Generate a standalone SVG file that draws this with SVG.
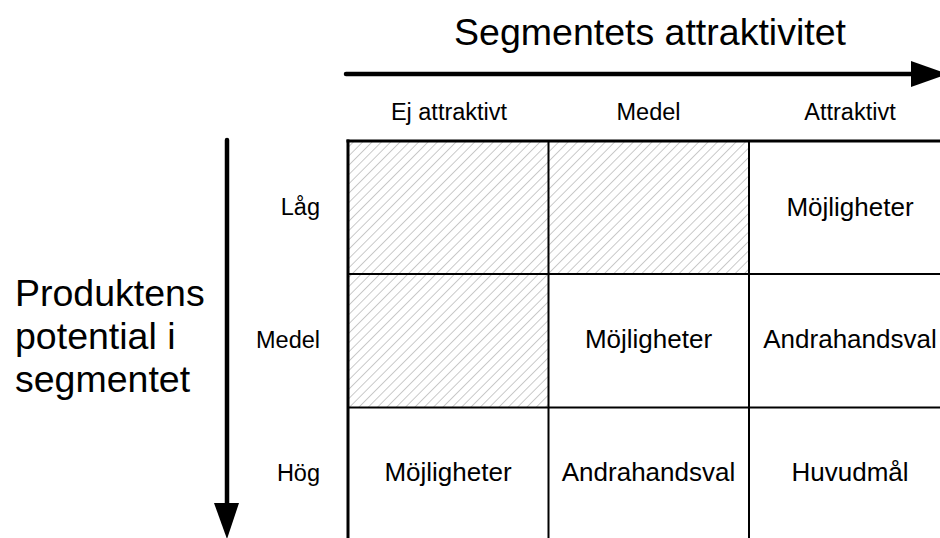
<svg xmlns="http://www.w3.org/2000/svg" width="940" height="538" viewBox="0 0 940 538">
  <defs>
    <pattern id="hatch" patternUnits="userSpaceOnUse" width="6.6" height="6.6" patternTransform="rotate(45)">
      <line x1="0" y1="0" x2="0" y2="6.6" stroke="#c4c4c4" stroke-width="1.8"/>
    </pattern>
    <style>
      text { font-family: "Liberation Sans", Arial, sans-serif; fill: #000; }
      .title { font-size: 37.5px; }
      .hdr { font-size: 23.5px; text-anchor: middle; }
      .row { font-size: 23.5px; text-anchor: end; }
      .cell { font-size: 26px; text-anchor: middle; }
      .grid { stroke: #000; stroke-width: 2; fill: none; }
      .outer { stroke: #000; stroke-width: 3; fill: none; }
      .arrow { stroke: #000; stroke-width: 4.5; fill: none; stroke-linecap: round; }
    </style>
  </defs>
  <rect width="940" height="538" fill="#fff"/>

  <g id="title-x"><text class="title" x="650" y="45" text-anchor="middle">Segmentets attraktivitet</text></g>
  <g id="title-y">
    <text class="title" x="15" y="306">Produktens</text>
    <text class="title" x="15" y="349">potential i</text>
    <text class="title" x="15" y="392">segmentet</text>
  </g>

  <g id="connectors">
    <line class="arrow" x1="346" y1="74" x2="914" y2="74"/>
    <polygon points="911,61 948,74 911,87" fill="#000"/>
    <line class="arrow" x1="227" y1="140" x2="227" y2="505"/>
    <polygon points="214,503 239,503 227,539" fill="#000"/>
  </g>

  <g id="col-headers">
    <text class="hdr" x="449" y="120">Ej attraktivt</text>
    <text class="hdr" x="648.5" y="120">Medel</text>
    <text class="hdr" x="850" y="120">Attraktivt</text>
  </g>
  <g id="row-headers">
    <text class="row" x="320" y="215">Låg</text>
    <text class="row" x="320" y="348">Medel</text>
    <text class="row" x="320" y="481">Hög</text>
  </g>

  <g id="cell-r1c1"><rect x="348" y="141" width="200.5" height="133" fill="url(#hatch)"/></g>
  <g id="cell-r1c2"><rect x="548.5" y="141" width="200.5" height="133" fill="url(#hatch)"/></g>
  <g id="cell-r1c3"><text class="cell" x="850" y="216">Möjligheter</text></g>
  <g id="cell-r2c1"><rect x="348" y="274" width="200.5" height="133.5" fill="url(#hatch)"/></g>
  <g id="cell-r2c2"><text class="cell" x="648.5" y="348">Möjligheter</text></g>
  <g id="cell-r2c3"><text class="cell" x="850" y="348">Andrahandsval</text></g>
  <g id="cell-r3c1"><text class="cell" x="448" y="481">Möjligheter</text></g>
  <g id="cell-r3c2"><text class="cell" x="648.5" y="481">Andrahandsval</text></g>
  <g id="cell-r3c3"><text class="cell" x="850" y="481">Huvudmål</text></g>

  <g id="grid">
    <line class="grid" x1="548.5" y1="141" x2="548.5" y2="538"/>
    <line class="grid" x1="749" y1="141" x2="749" y2="538"/>
    <line class="grid" x1="348" y1="274" x2="940" y2="274"/>
    <line class="grid" x1="348" y1="407.5" x2="940" y2="407.5"/>
    <line class="outer" x1="346.5" y1="141" x2="940" y2="141"/>
    <line class="outer" x1="348" y1="139.5" x2="348" y2="538"/>
  </g>
</svg>
